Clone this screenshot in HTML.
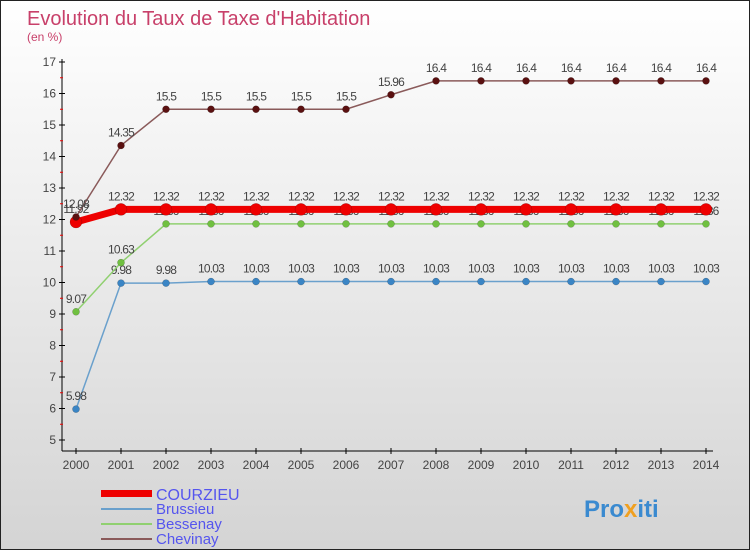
<!DOCTYPE html>
<html><head><meta charset="utf-8"><style>
body{margin:0}
#c{width:748px;height:548px;border:1px solid #222;position:relative;background:linear-gradient(#ffffff,#d4d4d4);font-family:"Liberation Sans",sans-serif;overflow:hidden}
</style></head><body>
<div id="c">
<svg id="s" width="748" height="548" style="position:absolute;left:0;top:0">
<text x="26" y="24" font-size="20" fill="#c8406a">Evolution du Taux de Taxe d'Habitation</text>
<text x="26" y="40" font-size="12" fill="#c8406a">(en %)</text>
<g id="ax"></g><g id="series"></g>
<g>
<rect x="100" y="489" width="51" height="7" fill="#e00"/>
<text x="155" y="499" font-size="16" fill="#5555ee">COURZIEU</text>
<rect x="100" y="507" width="51" height="2" fill="#6aa0cc"/>
<text x="155" y="513" font-size="15" fill="#5555ee">Brussieu</text>
<rect x="100" y="522" width="51" height="2" fill="#90d070"/>
<text x="155" y="528" font-size="15" fill="#5555ee">Bessenay</text>
<rect x="100" y="537" width="51" height="2" fill="#8a5a5a"/>
<text x="155" y="543" font-size="15" fill="#5555ee">Chevinay</text>
</g>
<text x="583" y="516" font-size="24" font-weight="bold" fill="#3a8ad0">Pro<tspan fill="#f0a020">x</tspan><tspan fill="#3a8ad0">iti</tspan></text>
</svg>
</div>
<script>
const years=[2000,2001,2002,2003,2004,2005,2006,2007,2008,2009,2010,2011,2012,2013,2014];
const courzieu=[11.92,12.32,12.32,12.32,12.32,12.32,12.32,12.32,12.32,12.32,12.32,12.32,12.32,12.32,12.32];
const brussieu=[5.98,9.98,9.98,10.03,10.03,10.03,10.03,10.03,10.03,10.03,10.03,10.03,10.03,10.03,10.03];
const bessenay=[9.07,10.63,11.86,11.86,11.86,11.86,11.86,11.86,11.86,11.86,11.86,11.86,11.86,11.86,11.86];
const chevinay=[12.08,14.35,15.5,15.5,15.5,15.5,15.5,15.96,16.4,16.4,16.4,16.4,16.4,16.4,16.4];
const yTicks=[5,6,7,8,9,10,11,12,13,14,15,16,17];
const NS="http://www.w3.org/2000/svg";
const x=i=>75+i*45, y=v=>439-(v-5)*31.5;
function mk(t,a,p){const e=document.createElementNS(NS,t);for(const k in a)e.setAttribute(k,a[k]);p.appendChild(e);return e;}
const ax=document.getElementById('ax');
let l=mk('line',{x1:61,y1:58,x2:61,y2:450,stroke:'#000'},ax);


l=mk('line',{x1:61,y1:450,x2:712,y2:450,stroke:'#000'},ax);


yTicks.forEach(v=>{mk('line',{x1:58,y1:y(v),x2:64,y2:y(v),stroke:'#000'},ax);
if(v<17)mk('line',{x1:59,y1:y(v+0.5),x2:62,y2:y(v+0.5),stroke:'#e00'},ax);
const t=mk('text',{x:55,y:y(v)+4,'font-size':12,fill:'#444','text-anchor':'end'},ax);t.textContent=v;

});
years.forEach((yr,i)=>{mk('line',{x1:x(i),y1:447,x2:x(i),y2:453,stroke:'#000'},ax);
const t=mk('text',{x:x(i),y:468,'font-size':12,fill:'#444','text-anchor':'middle'},ax);t.textContent=yr;

});
const sg=document.getElementById('series');
function draw(name,vals,color,lw,r,dot){
const g=mk('g',{},sg);


mk('polyline',{points:vals.map((v,i)=>x(i)+','+y(v)).join(' '),fill:'none',stroke:color,'stroke-width':lw},g);
vals.forEach((v,i)=>{const c=mk('circle',{cx:x(i),cy:y(v),r:r,fill:dot,stroke:'rgba(0,0,0,0.3)','stroke-width':0.5},g);


const t=mk('text',{x:x(i),y:y(v)-9,'font-size':12,fill:'#444','text-anchor':'middle','letter-spacing':'-0.8'},g);t.textContent=v;

});}
draw('brussieu',brussieu,'#6aa0cc',1.5,3.5,'#3a85c5');
draw('bessenay',bessenay,'#90d070',1.5,3.5,'#70c040');
draw('courzieu',courzieu,'#e00',7,6,'#e00');
draw('chevinay',chevinay,'#8a5a5a',1.5,3.5,'#5a1010');
</script>
</body></html>
